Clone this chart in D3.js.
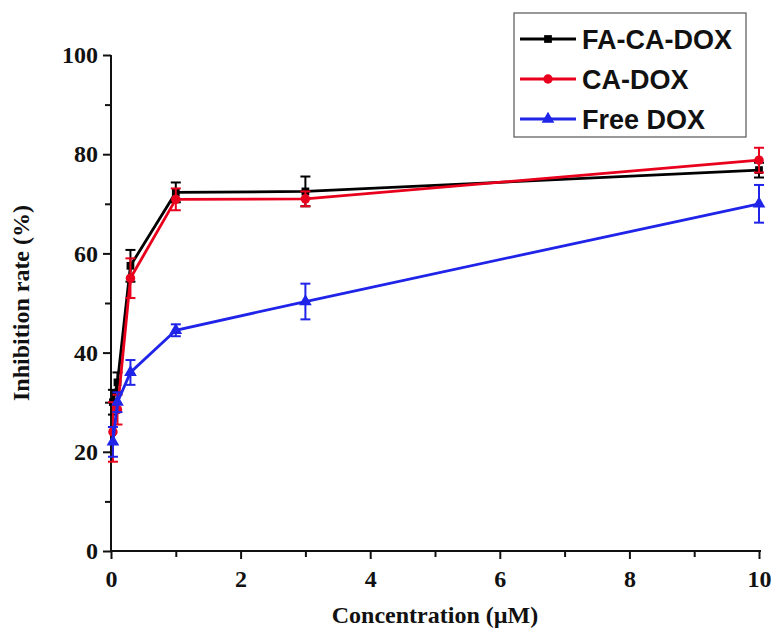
<!DOCTYPE html>
<html>
<head>
<meta charset="utf-8">
<script src="https://cdn.jsdelivr.net/npm/d3@7"></script>
<style>
  html, body { margin: 0; padding: 0; background: #fff; }
  svg { display: block; }
</style>
</head>
<body>
<svg id="chart" width="784" height="628"></svg>
<script>
// Drug concentrations (µM)
const concentrations = [0.03, 0.1, 0.3, 1, 3, 10];

// Inhibition rate (%) per formulation, with standard deviations
const faCaDox    = [30, 34, 57.5, 72.3, 72.5, 76.8];
const faCaDoxSd  = [2.5, 2.0, 3.2, 2.0, 3.0, 1.5];
const caDox      = [24, 28.5, 55, 70.9, 71, 78.8];
const caDoxSd    = [6, 3.0, 4.0, 2.2, 1.5, 2.5];
const freeDox    = [22, 30, 36, 44.5, 50.3, 70];
const freeDoxSd  = [3, 2.0, 2.5, 1.2, 3.6, 3.8];

const xTicks = [0, 2, 4, 6, 8, 10];
const yTicks = [0, 20, 40, 60, 80, 100];

const seriesList = [
  { name: "FA-CA-DOX", values: faCaDox, sd: faCaDoxSd, color: "#000000", symbol: d3.symbolSquare, size: 60 },
  { name: "CA-DOX",    values: caDox,   sd: caDoxSd,   color: "#e8001c", symbol: d3.symbolCircle, size: 70 },
  { name: "Free DOX",  values: freeDox, sd: freeDoxSd, color: "#1f24e8", symbol: d3.symbolTriangle, size: 70 }
];

const svg = d3.select("#chart");
const x = d3.scaleLinear().domain([0, 10]).range([111, 759]);
const y = d3.scaleLinear().domain([0, 100]).range([551, 55]);

const serif = "'Liberation Serif', 'Times New Roman', serif";
const sans = "'Liberation Sans', Arial, sans-serif";

// Axes: major ticks labelled, minor ticks in between
const xAxis = d3.axisBottom(x).tickValues(d3.range(0, 11, 1)).tickSize(8).tickPadding(11)
  .tickFormat(d => xTicks.includes(d) ? d : "");
const yAxis = d3.axisLeft(y).tickValues(d3.range(0, 101, 10)).tickSize(8).tickPadding(5)
  .tickFormat(d => yTicks.includes(d) ? d : "");

const gx = svg.append("g").attr("transform", `translate(0,${y(0)})`).call(xAxis);
const gy = svg.append("g").attr("transform", `translate(${x(0)},0)`).call(yAxis);

[gx, gy].forEach(g => {
  g.select(".domain").attr("stroke", "#111").attr("stroke-width", 2);
  g.selectAll(".tick line").attr("stroke", "#111").attr("stroke-width", 2);
  g.selectAll(".tick text").attr("fill", "#111")
    .style("font-family", serif).style("font-weight", "bold").style("font-size", "24px");
});
gx.selectAll(".tick").filter(d => !xTicks.includes(d)).select("line").attr("y2", 6);
gy.selectAll(".tick").filter(d => !yTicks.includes(d)).select("line").attr("x2", -6);
gx.select(".domain").attr("d", `M${x(0)},0H${x(10) + 2}`);
gy.select(".domain").attr("d", `M0,${y(0)}V${y(100)}`);

// Axis titles
svg.append("text")
  .attr("x", (x(0) + x(10)) / 2).attr("y", 623)
  .attr("text-anchor", "middle")
  .style("font-family", serif).style("font-weight", "bold").style("font-size", "24px")
  .attr("fill", "#111")
  .text("Concentration (µM)");

svg.append("text")
  .attr("transform", `translate(29,${(y(0) + y(100)) / 2}) rotate(-90)`)
  .attr("text-anchor", "middle")
  .style("font-family", serif).style("font-weight", "bold").style("font-size", "24px")
  .attr("fill", "#111")
  .text("Inhibition rate (%)");

// Series: error bars, lines, markers
const line = d3.line().x((d, i) => x(concentrations[i])).y(d => y(d));
const capW = 5;

seriesList.forEach(s => {
  const g = svg.append("g");
  const eb = g.selectAll("g.eb").data(s.values).join("g");
  eb.append("line")
    .attr("x1", (d, i) => x(concentrations[i])).attr("x2", (d, i) => x(concentrations[i]))
    .attr("y1", (d, i) => y(d + s.sd[i])).attr("y2", (d, i) => y(d - s.sd[i]))
    .attr("stroke", s.color).attr("stroke-width", 2);
  [1, -1].forEach(sign => {
    eb.append("line")
      .attr("x1", (d, i) => x(concentrations[i]) - capW).attr("x2", (d, i) => x(concentrations[i]) + capW)
      .attr("y1", (d, i) => y(d + sign * s.sd[i])).attr("y2", (d, i) => y(d + sign * s.sd[i]))
      .attr("stroke", s.color).attr("stroke-width", 2);
  });
  g.append("path").datum(s.values)
    .attr("d", line).attr("fill", "none")
    .attr("stroke", s.color).attr("stroke-width", 2.8);
  g.selectAll("path.m").data(s.values).join("path")
    .attr("class", "m")
    .attr("transform", (d, i) => `translate(${x(concentrations[i])},${y(d)})`)
    .attr("d", d3.symbol().type(s.symbol).size(s.size))
    .attr("fill", s.color);
});

// Legend
const lg = svg.append("g");
lg.append("rect").attr("x", 514).attr("y", 13).attr("width", 232).attr("height", 124)
  .attr("fill", "#fff").attr("stroke", "#555").attr("stroke-width", 1.2);
seriesList.forEach((s, i) => {
  const cy = 39 + i * 40;
  lg.append("line").attr("x1", 520).attr("x2", 576).attr("y1", cy).attr("y2", cy)
    .attr("stroke", s.color).attr("stroke-width", 2.8);
  lg.append("path").attr("transform", `translate(548,${cy})`)
    .attr("d", d3.symbol().type(s.symbol).size(s.size)).attr("fill", s.color);
  lg.append("text").attr("x", 582).attr("y", cy).attr("dy", "0.36em")
    .style("font-family", sans).style("font-weight", "bold").style("font-size", "27px")
    .attr("fill", "#111").text(s.name);
});
</script>
</body>
</html>
